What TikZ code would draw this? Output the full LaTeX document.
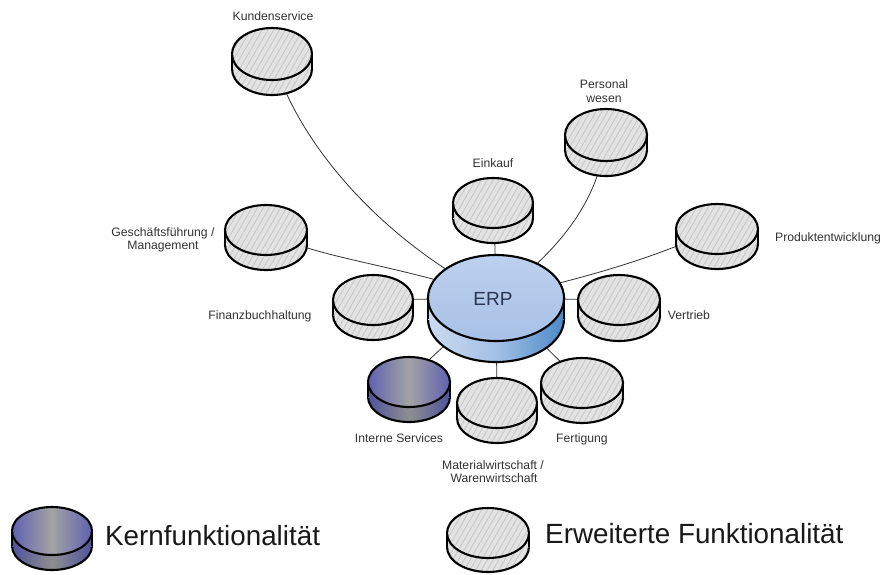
\documentclass[tikz,border=0pt]{standalone}
\usepackage{fontspec}
\setmainfont{Liberation Sans}
\usetikzlibrary{patterns.meta}
\definecolor{hatchbg}{HTML}{E3E3E3}
\definecolor{hatchfg}{HTML}{C6C6C6}
\definecolor{txt}{HTML}{333333}
\definecolor{kernA}{HTML}{5F61B1}
\definecolor{kernB}{HTML}{A3A3A3}
\definecolor{kernC}{HTML}{50529E}
\definecolor{kernD}{HTML}{8E8E8E}
\definecolor{erpTopA}{HTML}{BDD0EE}
\definecolor{erpTopB}{HTML}{A8C1E6}
\definecolor{erpL}{HTML}{CADBF1}
\definecolor{erpM}{HTML}{A4C0E5}
\definecolor{erpR}{HTML}{4A8AC8}
\definecolor{erptext}{HTML}{2B3450}
\tikzset{
  outl/.style={draw=black, line width=2.1pt},
  hatch/.style={fill=hatchbg, postaction={pattern={Lines[angle=60,distance=5pt,line width=0.8pt]}, pattern color=hatchfg}},
  kerntop/.style={left color=kernA, right color=kernA, middle color=kernB},
  kernside/.style={left color=kernC, right color=kernC, middle color=kernD},
  erptop/.style={top color=erpTopA, bottom color=erpTopB},
  erpside/.style={left color=erpL, right color=erpR, middle color=erpM},
  conn/.style={draw=black!80, line width=0.8pt},
  lbl/.style={font=\fontsize{12.2}{13}\selectfont, text=txt, inner sep=0pt, anchor=base},
  big/.style={font=\fontsize{27.8}{30}\selectfont, text=black!90, inner sep=0pt, anchor=base west}
}
% cx cy rx ry h topstyle sidestyle
\newcommand{\dsk}[7]{%
  \fill[#7] (#1,#2+#5) ellipse[x radius=#3, y radius=#4];
  \draw[outl] (#1,#2+#5) ellipse[x radius=#3, y radius=#4];
  \fill[#7] (#1-#3,#2) rectangle (#1+#3,#2+#5);
  \draw[outl] (#1-#3,#2) -- (#1-#3,#2+#5) (#1+#3,#2) -- (#1+#3,#2+#5);
  \fill[#6] (#1,#2) ellipse[x radius=#3, y radius=#4];
  \draw[outl] (#1,#2) ellipse[x radius=#3, y radius=#4];
}
\begin{document}
\begin{tikzpicture}[x=1pt,y=-1pt]
\useasboundingbox[fill=white] (0,0) rectangle (885,574);
% disk centres
\coordinate (kunden) at (272,54);
\coordinate (personal) at (606,135);
\coordinate (einkauf) at (494,203);
\coordinate (gf) at (266,230);
\coordinate (produkt) at (717,229);
\coordinate (finanz) at (373,300);
\coordinate (vertrieb) at (619,300);
\coordinate (erp) at (496,298);
\coordinate (interne) at (405,382);
\coordinate (material) at (497,403);
\coordinate (fertigung) at (582,383);
\coordinate (legk) at (52,531);
\coordinate (lege) at (488,533);
% connectors
\draw[conn] (kunden) .. controls (295,140) and (380,240) .. (erp);
\draw[conn] (gf) .. controls (310,258) and (390,262) .. (erp);
\draw[conn] (finanz) -- (erp);
\draw[conn] (einkauf) -- (erp);
\draw[conn] (personal) .. controls (600,200) and (560,250) .. (erp);
\draw[conn] (produkt) .. controls (660,255) and (600,275) .. (erp);
\draw[conn] (vertrieb) -- (erp);
\draw[conn] (interne) -- (erp);
\draw[conn] (material) -- (erp);
\draw[conn] (fertigung) -- (erp);
% disks
\dsk{272}{54}{40}{26}{15}{hatch}{hatch}
\dsk{606}{135}{41}{26}{15}{hatch}{hatch}
\dsk{493}{203}{40}{25}{15}{hatch}{hatch}
\dsk{266}{230}{41}{25}{15}{hatch}{hatch}
\dsk{717}{229}{41}{25}{15}{hatch}{hatch}
\dsk{373}{300}{40}{25}{15}{hatch}{hatch}
\dsk{619}{300}{41}{25}{16}{hatch}{hatch}
\dsk{409}{382}{41}{25}{15}{kerntop}{kernside}
\dsk{497}{403}{40}{25}{15}{hatch}{hatch}
\dsk{582}{383}{41}{25}{15}{hatch}{hatch}
\dsk{496}{298}{68}{43}{21}{erptop}{erpside}
\dsk{52}{531}{40}{24}{15}{kerntop}{kernside}
\dsk{488}{533}{41}{25}{14}{hatch}{hatch}
% labels
\node[font=\fontsize{19}{20}\selectfont, text=erptext, inner sep=0pt, anchor=base] (t-erp) at (493,305) {ERP};
\node[lbl] (t-kunden) at (273,20) {Kundenservice};
\node[lbl] (t-personal1) at (604,88) {Personal};
\node[lbl] (t-personal2) at (604,102) {wesen};
\node[lbl] (t-einkauf) at (493,167) {Einkauf};
\node[lbl] (t-gf1) at (163,236) {Geschäftsführung /};
\node[lbl] (t-gf2) at (163,249) {Management};
\node[lbl] (t-produkt) at (828,241) {Produktentwicklung};
\node[lbl] (t-finanz) at (260,319) {Finanzbuchhaltung};
\node[lbl] (t-vertrieb) at (689,319) {Vertrieb};
\node[lbl] (t-interne) at (399,442) {Interne Services};
\node[lbl] (t-fertigung) at (582,442) {Fertigung};
\node[lbl] (t-material1) at (493,469) {Materialwirtschaft /};
\node[lbl] (t-material2) at (494,482) {Warenwirtschaft};
\node[big] (t-kern) at (105,545) {Kernfunktionalität};
\node[big] (t-erw) at (545,543) {Erweiterte Funktionalität};
\end{tikzpicture}
\end{document}
